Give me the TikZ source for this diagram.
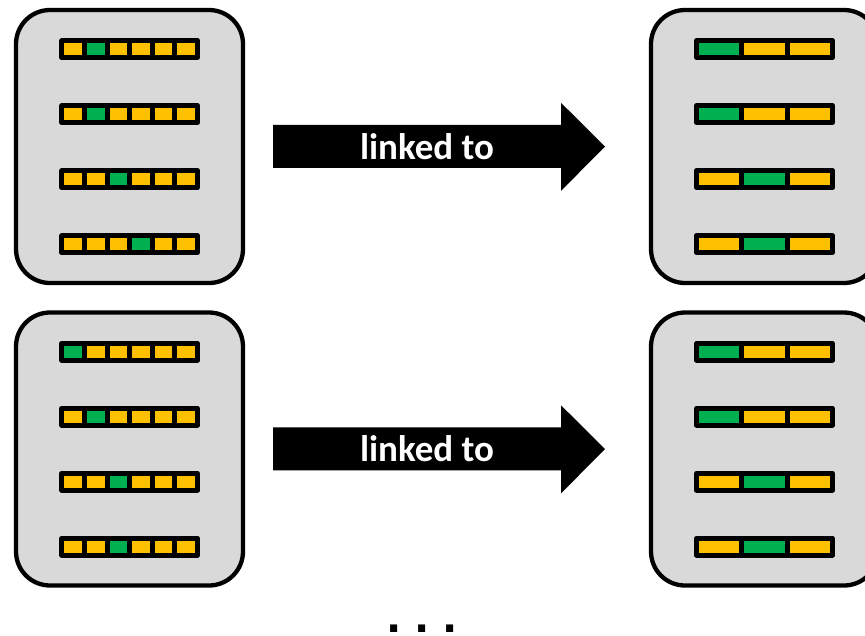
\documentclass[tikz,border=0pt]{standalone}
\usepackage{fontspec}
\setmainfont{Carlito}
\newfontfamily\dotfont{DejaVu Sans}
\definecolor{panelgrey}{HTML}{D9D9D9}
\definecolor{slotyellow}{HTML}{FFC000}
\definecolor{slotgreen}{HTML}{00B050}
\tikzset{
  panel/.style={draw=black, line width=4.3pt, fill=panelgrey, rounded corners=34pt,
    rectangle, inner sep=0pt, minimum width=227pt, minimum height=273pt},
  cell/.style={draw=black, line width=5pt, rectangle, inner sep=0pt,
    minimum height=16.7pt, line join=round},
  bigarrow/.style={fill=black},
  arrowtext/.style={text=white, font=\fontsize{37}{39}\selectfont\bfseries},
  dots/.style={font=\dotfont\fontsize{40}{40}\selectfont\bfseries, inner sep=0pt}
}
\begin{document}
\begin{tikzpicture}[x=1pt,y=-1pt]
\useasboundingbox (0,0) rectangle (865,635);
\begin{scope}
\clip (0,0) rectangle (865,635);

% two rows of panels, the lower row shifted by 302.5
\foreach \r/\dy/\gl/\gr in {0/0/{2,2,3,4}/{1,1,2,2}, 1/302.5/{1,2,3,3}/{1,1,2,2}} {
  \node[panel] (L\r) at (129.5,146.5+\dy) {};
  \node[panel] (R\r) at (764.5,146.5+\dy) {};
  % left panel: six narrow cells per slot
  \foreach \g [count=\k from 0] in \gl {
    \foreach \c in {1,...,6} {
      \pgfmathsetmacro{\cx}{61.8+22.62*(\c-0.5)}
      \ifnum\c=\g\relax \def\fc{slotgreen}\else \def\fc{slotyellow}\fi
      \node[cell, fill=\fc, minimum width=22.62pt] (L\r-\k-\c) at (\cx,49.2+65*\k+\dy) {};
    }
  }
  % right panel: three wide cells per slot
  \foreach \g [count=\k from 0] in \gr {
    \foreach \c in {1,2,3} {
      \pgfmathsetmacro{\cx}{696.5+45.33*(\c-0.5)}
      \ifnum\c=\g\relax \def\fc{slotgreen}\else \def\fc{slotyellow}\fi
      \node[cell, fill=\fc, minimum width=45.33pt] (R\r-\k-\c) at (\cx,49.2+65*\k+\dy) {};
    }
  }
  % block arrow between the panels
  \coordinate (A\r) at (273,146.5+\dy);
  \fill[bigarrow] (A\r) ++(0,-21.7) -- ++(288,0) -- ++(0,-22) -- ++(44,43.7)
    -- ++(-44,44.4) -- ++(0,-23) -- ++(-288,0) -- cycle;
  \node[arrowtext] (T\r) at (427,146.5+\dy) {linked to};
}

\node[dots, anchor=base] (more) at (422,632) {.\kern13pt.\kern13pt.};
\end{scope}
\end{tikzpicture}
\end{document}
